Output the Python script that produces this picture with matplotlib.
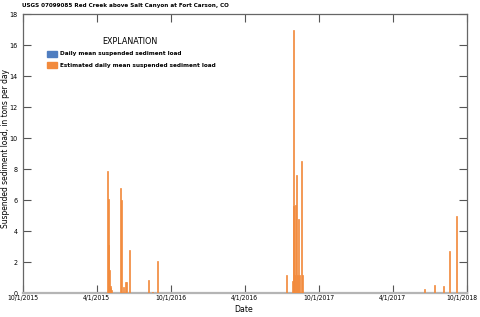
import os
import matplotlib
matplotlib.use("Agg")
import matplotlib.pyplot as plt
import matplotlib.dates as mdates
import matplotlib.transforms as mtransforms
from matplotlib.patches import Rectangle
from matplotlib.font_manager import FontProperties, fontManager
import pandas as pd

# ---- data ----
est_dates = ["2016-04-28", "2016-04-30", "2016-05-01", "2016-05-02", "2016-05-04",
             "2016-05-06", "2016-05-08", "2016-05-30", "2016-06-02", "2016-06-07",
             "2016-06-12", "2016-06-14", "2016-06-22", "2016-08-07", "2016-08-16",
             "2016-08-29",
             "2017-05-11", "2017-07-14", "2017-07-27", "2017-07-29", "2017-07-31",
             "2017-08-02", "2017-08-05", "2017-08-07", "2017-08-10", "2017-08-12",
             "2017-08-15", "2017-08-19", "2017-08-21",
             "2018-06-17", "2018-07-13", "2018-08-03", "2018-08-20", "2018-09-06"]
est_loads = [7.85, 6.1, 3.1, 1.5, 0.5,
             0.35, 0.2, 6.8, 6.0, 0.4,
             0.75, 0.7, 2.8, 0.85, 0.1,
             2.1,
             0.05, 1.18, 0.8, 5.6, 17.0,
             1.2, 5.7, 7.6, 1.2, 4.8,
             1.2, 8.5, 1.2,
             0.26, 0.52, 0.47, 2.73, 5.0]
meas_dates = []
meas_loads = []

tick_dates = ["2015-10-01", "2016-04-01", "2016-10-01", "2017-04-01",
              "2017-10-01", "2018-04-01", "2018-10-01"]
tick_labels = ["10/1/2015", "4/1/2015", "10/1/2016", "4/1/2016",
               "10/1/2017", "4/1/2017", "10/1/2018"]
y_ticks = [0, 2, 4, 6, 8, 10, 12, 14, 16, 18]

title = "USGS 07099085 Red Creek above Salt Canyon at Fort Carson, CO"
legend_title = "EXPLANATION"
legend_labels = ["Daily mean suspended sediment load",
                 "Estimated daily mean suspended sediment load"]

# ---- fonts: look for a narrow/condensed face ----
def find_font(cands):
    files = {os.path.basename(f.fname): f.fname for f in fontManager.ttflist}
    for c in cands:
        if c in files:
            return files[c]
    return None

reg_file = find_font(["LiberationSansNarrow-Regular.ttf", "DejaVuSansCondensed.ttf"])
bold_file = find_font(["LiberationSansNarrow-Bold.ttf", "DejaVuSansCondensed-Bold.ttf"])

def fp(size, bold=False):
    f = bold_file if bold else reg_file
    if f:
        return FontProperties(fname=f, size=size)
    return FontProperties(family="Liberation Sans", size=size*0.85,
                          weight="bold" if bold else "normal")

blue = "#4F7DC0"
orange = "#F28A3C"

fig = plt.figure(figsize=(4.8, 3.17), dpi=100)
ax = fig.add_axes([22.5/480, 1-293.3/317, (467-22.5)/480, (293.3-14)/317])

x_est = mdates.date2num(pd.to_datetime(est_dates))
ax.bar(x_est, est_loads, width=2.5, color=orange, edgecolor=orange, linewidth=0.5, zorder=3)
if meas_dates:
    x_m = mdates.date2num(pd.to_datetime(meas_dates))
    ax.bar(x_m, meas_loads, width=2.5, color=blue, zorder=3)

x0 = mdates.date2num(pd.Timestamp("2015-10-01"))
x1 = mdates.date2num(pd.Timestamp("2018-10-01"))
ax.set_xlim(x0, x1)
ax.set_ylim(0, 18)

tick_pos = mdates.date2num(pd.to_datetime(tick_dates))
ax.set_xticks(tick_pos)
ax.set_xticklabels(tick_labels, fontproperties=fp(4.9))
ax.set_yticks(y_ticks)
ax.set_yticklabels([str(v) for v in y_ticks], fontproperties=fp(5.1))

ax.tick_params(axis="both", direction="in", length=5.5, width=0.8, color="#555555", pad=1.5)
ax.tick_params(axis="x", top=True, bottom=True, colors="#555555", labelcolor="black")
ax.tick_params(axis="y", left=True, right=True, labelcolor="black", pad=3.5)

# keep the last date label inside the figure, as in the reference
last = ax.get_xticklabels()[-1]
last.set_transform(last.get_transform() +
                   mtransforms.ScaledTranslation(-5/100, 0, fig.dpi_scale_trans))

for s in ["left", "top", "right"]:
    ax.spines[s].set_color("#666666")
    ax.spines[s].set_linewidth(0.9)
ax.spines["bottom"].set_color("#b5b5b5")
ax.spines["bottom"].set_linewidth(1.6)

ax.set_xlabel("Date", fontproperties=fp(6.2))
ax.xaxis.label.set_va("center")
ax.xaxis.set_label_coords((244-22.5)/444.5, -(310-293.3)/279.3)
ax.set_ylabel("Suspended sediment load, in tons per day", fontproperties=fp(6.0))
ax.yaxis.label.set_va("center")
ax.yaxis.set_label_coords(-(22.5-5.5)/444.5, (293.3-148)/279.3)

fig.text(22.5/480, 1-6/317, title, fontproperties=fp(4.5, bold=True), ha="left", va="center")

# legend (explanation)
fig.text(130/480, 1-42/317, legend_title, fontproperties=fp(6.4), ha="center", va="center")
for i, (lab, col) in enumerate(zip(legend_labels, [blue, orange])):
    yc = 54 + i*11
    fig.patches.append(Rectangle((46.5/480, 1-(yc+3)/317), 10.5/480, 6/317,
                                 transform=fig.transFigure, color=col, zorder=5))
    fig.text(60/480, 1-yc/317, lab, fontproperties=fp(4.6, bold=True), ha="left", va="center")

fig.savefig("out.png", dpi=100)
